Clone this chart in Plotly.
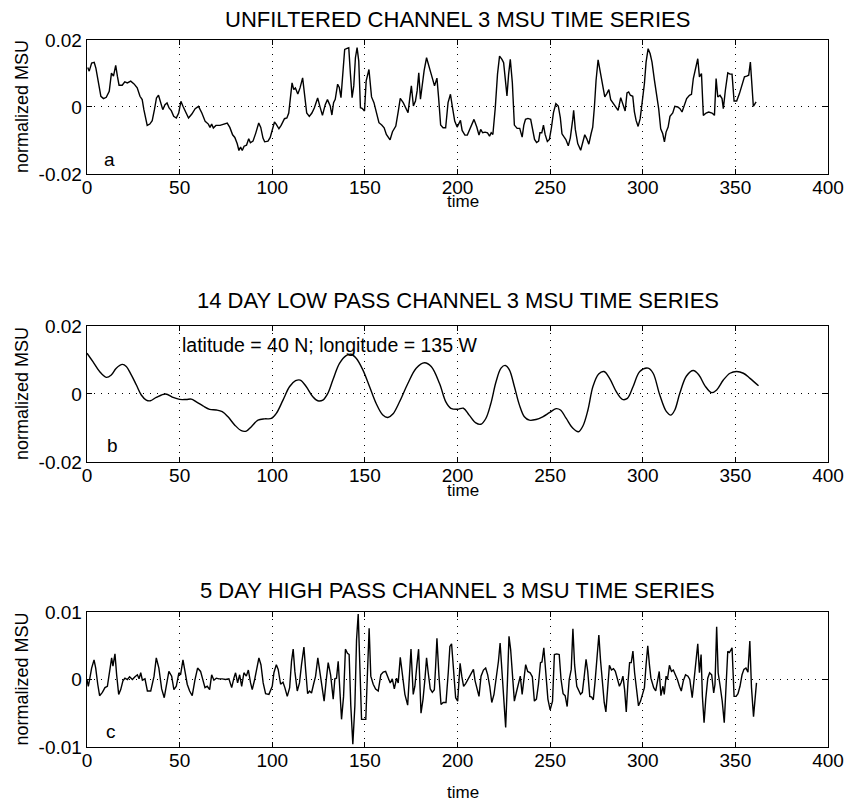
import plotly.graph_objects as go

# ---------------- data ----------------
time_a = [0.4, 1.2, 2.5, 3.9, 4.8, 6, 7.5, 8.9, 10.4, 12, 13.2, 14.3, 15.5, 16.4, 17.3, 19, 20.4, 21.8,
          23.6, 25.4, 27.1, 28.6, 29.8, 30.7, 31.6, 32.5, 33.9, 35.2, 36.4, 37.5, 38.6, 39.6, 40.9, 42.1,
          43.2, 44.3, 45.5, 46.8, 48.2, 49.5, 50.7, 51.8, 53, 54.8, 56.6, 58.4, 60.2, 62, 63.8, 65.5,
          66.4, 67.3, 68.2, 69.6, 71.8, 73.6, 75.7, 77.1, 78.6, 79.8, 81.1, 82, 82.9, 83.8, 84.8, 86.1,
          87.3, 88.2, 89.6, 91.1, 92.7, 93.8, 95, 95.9, 97.7, 98.9, 100, 101.2, 102.1, 103.6, 104.8,
          106.6, 107.9, 108.9, 109.8, 110.7, 111.6, 112.5, 113.8, 115, 116.4, 117.5, 118.6, 120, 121.4,
          122.7, 124.5, 125.7, 127.1, 128.6, 129.8,
          131.3, 132.2, 133.1, 134, 135.3, 136.2, 137.1, 138, 139.1, 140.4, 141.3, 142.2, 143.1, 144,
          144.9, 145.8, 146.7, 147.6, 148.5, 149.8, 150.7, 152.2, 153.1, 153.6, 154.9, 156.2, 157.6,
          159.1, 160.4, 161.6, 162.7, 163.6, 164.9, 166.7, 168, 169.1, 170.7, 172.2, 173.3, 174.4,
          175.1, 176.2, 177.3, 178.2, 179.1, 180, 180.9, 182, 183.3, 184.4, 185.8, 187.6, 188.9, 189.8,
          190.9, 192.2, 193.6, 194.9, 196.2, 197.3, 198.5, 199.8, 200.9, 201.6, 202.5, 204, 205.3,
          206.7, 208.9, 210.4, 211.6, 212.5, 213.6, 214.9, 216.2, 217.3, 218.2, 219.1, 220.4, 221.6,
          222.7, 224, 224.9, 225.8, 226.7, 227.6, 228.5, 229.6, 230.7, 232.2, 233.6, 234.9, 235.8,
          236.7, 238, 239.5, 240.4, 241.6, 242.7, 243.8, 244.5, 245.5, 246.4, 247.3, 248.5, 249.6,
          250.7, 251.8, 253.1, 254.4, 255.5, 256.4, 257.6, 258.5, 259.8, 260.9, 262.2, 262.7, 263.6,
          264.9,
          266.5, 267.6, 268.7, 269.8, 270.9, 272.1, 273, 273.9, 274.8, 275.9, 277, 278.1, 279.5,
          280.6, 281.7, 282.7, 284.2, 285.6, 286.7, 288.1, 289.2, 290.5, 291.5, 292.4, 293.3, 294.6,
          295.5, 296.4, 297.5, 298.6, 299.6, 300.9, 301.8, 302.9, 304, 305, 306.3, 307.2, 308.6,
          309.7, 310.8, 311.7, 312.6, 313.7, 314.7, 316.2, 317.3, 318.9, 320.1, 321.2, 322.5, 323.7,
          325.2, 326.3, 327.3, 328.8, 329.7, 330.6, 331.7, 332.7, 334.2, 335.6, 337.4, 338.7, 339.6,
          340.5, 341.7, 342.8, 343.5, 344.6, 345.9, 347.1, 348.2, 349.3, 350.7, 352.2, 353.6, 354.9,
          356.1, 357.2, 358.1, 359, 359.7, 361.2]
msu_a = [0.0118, 0.0107, 0.0131, 0.0133, 0.0116, 0.0077, 0.0032, 0.0025, 0.0029, 0.0047, 0.0101, 0.0092,
         0.0124, 0.0092, 0.0065, 0.0065, 0.0075, 0.0072, 0.0077, 0.0069, 0.0057, 0.0032, 0.0022,
         -0.0008, -0.0033, -0.0055, -0.0051, -0.0041, -0.0008, 0.0027, 0.0035, 0.0017, -0.0008,
         0.0007, 0.0012, -0.0003, -0.0011, -0.0028, -0.0033, -0.0018, 0.0017, 0.0002, -0.0013,
         -0.0033, -0.0021, -0.0005, 0.0002, -0.0018, -0.0043, -0.0051, -0.0061, -0.0051, -0.0063,
         -0.0055, -0.0055, -0.0051, -0.0048, -0.0061, -0.0083, -0.0091, -0.0110, -0.0130, -0.0120,
         -0.0130, -0.0117, -0.0114, -0.0095, -0.0107, -0.0102, -0.0078, -0.0048, -0.0061, -0.0093,
         -0.0104, -0.0102, -0.0091, -0.0065, -0.0045, -0.0051, -0.0065, -0.0055, -0.0035, -0.0033,
         -0.0018, 0.0027, 0.0072, 0.0052, 0.0057, 0.0039, 0.0057, 0.0087, 0.0037, -0.0018, -0.0028,
         -0.0018, -0.0003, 0.0027, 0.0002, -0.0025, 0.0007, 0.0022,
         0.0003, -0.0024, 0.0013, 0.0023, 0.0068, 0.0058, 0.0028, 0.0088, 0.0172, 0.0175, 0.0177,
         0.0098, 0.0028, 0.0063, 0.0147, 0.0177, 0.0137, -0.0002, -0.0004, -0.0012, 0.0078, 0.0112,
         0.0068, 0.0030, 0.0013, -0.0017, -0.0047, -0.0054, -0.0062, -0.0082, -0.0092, -0.0098,
         -0.0074, -0.0057, -0.0014, 0.0026, 0.0013, -0.0004, -0.0017, 0.0033, 0.0063, 0.0003, 0.0018,
         0.0048, 0.0102, 0.0023, 0.0063, 0.0109, 0.0147, 0.0122, 0.0098, 0.0063, 0.0086, 0.0028,
         -0.0054, -0.0062, -0.0062, 0.0013, 0.0038, -0.0002, -0.0042, -0.0060, -0.0050, -0.0040,
         -0.0070, -0.0084, -0.0084, -0.0064, -0.0037, -0.0060, -0.0084, -0.0067, -0.0077, -0.0075,
         -0.0077, -0.0087, -0.0077, -0.0082, -0.0002, 0.0098, 0.0152, 0.0142, 0.0132, 0.0083, 0.0033,
         0.0098, 0.0142, 0.0073, -0.0054, -0.0064, -0.0064, -0.0090, -0.0054, -0.0037, -0.0034,
         -0.0037, -0.0060, -0.0097, -0.0106, -0.0102, -0.0077, -0.0077, -0.0054, -0.0082, -0.0103,
         -0.0097, -0.0062, -0.0017, 0.0010, 0.0003, -0.0032, -0.0080, -0.0090, -0.0097, -0.0116,
         -0.0092, -0.0037, -0.0010, -0.0067, -0.0109,
         -0.0129, -0.0104, -0.0083, -0.0095, -0.0111, -0.0080, -0.0060, 0.0000, 0.0080, 0.0141,
         0.0109, 0.0070, 0.0030, 0.0040, 0.0052, 0.0022, 0.0010, 0.0000, -0.0010, 0.0028, 0.0010,
         -0.0012, 0.0042, 0.0045, 0.0035, 0.0032, -0.0015, -0.0040, -0.0058, -0.0035, 0.0010, 0.0070,
         0.0134, 0.0174, 0.0159, 0.0134, 0.0080, 0.0045, -0.0005, -0.0065, -0.0080, -0.0104, -0.0075,
         -0.0060, -0.0028, -0.0018, 0.0002, 0.0000, -0.0005, -0.0015, 0.0010, 0.0025, 0.0035, 0.0038,
         0.0085, 0.0124, 0.0144, 0.0090, 0.0100, -0.0025, -0.0018, -0.0015, -0.0018, -0.0025, 0.0085,
         0.0030, 0.0035, 0.0025, -0.0005, 0.0050, 0.0102, 0.0098, 0.0098, 0.0018, 0.0018, 0.0040,
         0.0070, 0.0090, 0.0092, 0.0095, 0.0134, 0.0070, 0.0002, 0.0015]

time_b = [0, 3.2, 6.8, 10.4, 13.1, 15.8, 19.1, 21.2, 23.9, 26.6, 29.3, 32, 34.2, 37.4, 42.4, 46.4, 50,
          53.6, 56.3, 59, 62.6, 66.2, 69.8, 73, 76.1, 79.7, 83.3, 86, 88.7, 92.3, 95.9, 99.5, 102.2,
          105.8, 109.4, 112.6, 115.1, 118.3, 121.9, 124.6, 127.3, 130, 132.7, 136.3, 139.9, 142.6,
          145.3, 148.9, 152.5, 156.1, 159.7, 162.4, 165.1, 168.7, 173.2, 177.7, 182.2, 185.8, 190.3,
          193.7, 196.4, 200, 203.2, 206.3, 209.9, 212.6, 215.3, 218, 220.8, 223.5, 225.8, 228, 230.7,
          233.4, 236.1, 238.8, 242.4, 246, 249.6, 253.2, 255.6, 258.7, 262.3, 265.3, 267.7, 270.4,
          273.1, 276.2, 279.1, 282.1, 285.7, 289, 291.7, 294.8, 298.4, 302.9, 305.6, 309.2, 312.8,
          315.2, 317.3, 320, 323.6, 327.3, 330.3, 333.6, 337.2, 339.9, 343.5, 347.1, 350.7, 354.3,
          357.9, 362.5]
msu_b = [0.0120, 0.0095, 0.0066, 0.0049, 0.0056, 0.0076, 0.0087, 0.0081, 0.0056, 0.0027, -0.0003,
         -0.0018, -0.0020, -0.0010, 0.0000, -0.0010, -0.0016, -0.0016, -0.0015, -0.0023, -0.0035,
         -0.0045, -0.0047, -0.0052, -0.0067, -0.0091, -0.0108, -0.0109, -0.0096, -0.0077, -0.0073,
         -0.0072, -0.0057, -0.0018, 0.0022, 0.0039, 0.0041, 0.0022, -0.0008, -0.0020, -0.0018, 0.0002,
         0.0041, 0.0090, 0.0113, 0.0117, 0.0105, 0.0071, 0.0022, -0.0028, -0.0062, -0.0069, -0.0059,
         -0.0023, 0.0031, 0.0076, 0.0092, 0.0081, 0.0031,
         -0.0023, -0.0042, -0.0045, -0.0042, -0.0062, -0.0085, -0.0089, -0.0072, -0.0028, 0.0036,
         0.0076, 0.0084, 0.0071, 0.0022, -0.0032, -0.0067, -0.0077, -0.0075, -0.0067, -0.0055,
         -0.0043, -0.0047, -0.0072, -0.0101, -0.0111, -0.0094, -0.0047, 0.0022, 0.0059, 0.0066,
         0.0046, 0.0007, -0.0016, -0.0013, 0.0022, 0.0066, 0.0076, 0.0061, -0.0003, -0.0052, -0.0062,
         -0.0047, 0.0002, 0.0053, 0.0069, 0.0056, 0.0024, 0.0004, 0.0012, 0.0041, 0.0061, 0.0066,
         0.0061, 0.0046, 0.0024]

time_c = [0, 0.7, 1.4, 2.5, 3.8, 4.7, 5.8, 6.8, 8.3, 9.7, 11, 12.2, 13.3, 14, 15.1, 16, 17.1, 18.2, 19.4,
          20.5, 21.8, 23, 24.5, 25.9, 27.2, 28.1, 29, 29.9, 31.3, 32.6, 34.4, 36.2, 37.4, 38.8, 40.3,
          41.7, 43, 44.2, 45.7, 46.9, 48.2, 49.6, 50.5, 51.8, 52.9, 54.1, 55.4, 56.8, 58.3, 59.7,
          61.3, 62.6, 63.7, 64.9, 66.2, 67.3, 68.5, 69.8, 71.2, 73, 74.8, 76.6, 78.1, 79.3, 80.2,
          81.3, 82.4, 83.5, 84.7, 86, 87.1, 88.3, 89.2, 90.5, 91.7, 92.8, 93.9, 95.1, 96.4, 98.2, 100,
          100.9, 102.2, 103.2, 104.5, 105.8, 106.8, 108.1, 109.4, 110.4, 111.3, 112.2, 113.5, 114.7,
          115.8, 117.1, 118, 119.1, 120.1, 121.2, 122.3, 123.4, 124.6, 125.7, 126.9, 128, 129.1,
          130.2, 131.5,
          132.9, 133.8, 134.7, 135.6, 136.5, 137.4, 138.5, 139.5, 140.6, 141.5, 142.4, 143.5, 144.6,
          145.5, 146.4, 147.3, 148.2, 149.5, 150.5, 151.4, 152.3, 153.2, 154.5, 155.8, 157.2, 158.6,
          159.9, 161.2, 162.6, 163.7, 164.8, 165.9, 167.1, 168, 169.1, 170.2, 171.6, 173.1, 174,
          174.9, 176.1, 177, 178.1, 179, 180.3, 181.4, 182.4, 183.3, 184.2, 185.3, 186.4, 187.5,
          188.2, 188.9, 190, 191.1, 192.3, 193.8, 195, 195.9, 196.8, 197.9, 199, 200.1, 201.4, 202.3,
          203.3, 204.4, 205.9, 207.3, 208.6, 209.5, 210.5, 211.6, 212.7, 214, 215.2, 216.3, 217.4,
          218.5, 219.7, 220.8, 222.1, 223, 223.9, 225, 226, 226.9, 227.8, 228.7, 229.6, 230.7, 231.7,
          232.8, 233.9, 234.9, 235.8, 236.8, 237.9, 239.2, 240.4, 241.5, 242.6, 243.7, 244.8, 245.6,
          246.6, 247.7, 248.8, 250, 251.3, 252.3, 253.6, 254.9, 255.9, 257, 258.1, 259.2, 260.3,
          261.4, 262.3, 263.2, 264.4,
          266.4, 267.4, 268.5, 269.4, 270.3, 271.4, 272.4, 273.3, 274.2, 275.3, 276.3, 277.2, 278.3,
          279.2, 280.1, 281, 282, 283.1, 284.2, 285.2, 286.3, 287.4, 288.4, 289.3, 290.2, 291.1, 292,
          292.9, 293.8, 294.7, 295.6, 296.6, 297.7, 298.8, 300, 300.9, 301.8, 302.7, 303.6, 304.4,
          305.9, 307, 308, 308.9, 309.8, 310.9, 311.6, 312.6, 313.3, 314.4, 315.5, 316.5, 317.6,
          318.7, 319.8, 320.8, 321.9, 323.1, 324.4, 325.4, 326.7, 327.6, 328.6, 329.7, 330.6, 331.5,
          332.2, 333.1, 334, 335.1, 336.1, 337.2, 338.3, 339, 339.9, 340.7, 341.8, 342.9, 344, 345,
          345.9, 346.8, 347.5, 348.2, 349.3, 350.4, 351.4, 352.5, 353.6, 354.6, 355.7, 356.8, 357.8,
          358.7, 359.8, 361.4]
msu_c = [0.0, -0.0010, 0.0, 0.0017, 0.0029, 0.0017, -0.0007, -0.0024, -0.0019, -0.0012, -0.0010, 0.0012,
         0.0032, 0.0020, 0.0038, 0.0007, -0.0022, -0.0015, -0.0002, 0.0002, 0.0, 0.0004, 0.0, 0.0004,
         0.0007, 0.0001, 0.0010, -0.0001, 0.0001, -0.0017, -0.0017, 0.0005, 0.0032, 0.0017, -0.0014,
         -0.0027, -0.0004, 0.0012, 0.0005, -0.0015, -0.0010, 0.0010, 0.0007, 0.0029, 0.0012, -0.0007,
         -0.0017, -0.0024, 0.0, 0.0017, 0.0012, -0.0002, -0.0012, -0.0010, -0.0015, 0.0007, -0.0001,
         0.0002, 0.0001, 0.0001, 0.0, 0.0001, -0.0012, 0.0002, 0.0010, -0.0005, 0.0007, -0.0010,
         0.0010, 0.0005, 0.0014, -0.0005, -0.0015, 0.0, 0.0020, 0.0032, 0.0022, -0.0005, -0.0021,
         -0.0022, -0.0010, 0.0010, 0.0022, 0.0015, -0.0007, -0.0004, -0.0012, -0.0025, -0.0012, 0.0027,
         0.0045, 0.0012, -0.0017, -0.0005, 0.0022, 0.0048, 0.0015, -0.0021, -0.0017, -0.0020, -0.0007,
         0.0005, 0.0032, 0.0010, -0.0015, -0.0032, -0.0002, 0.0025, 0.0007,
         -0.0029, 0.0001, 0.0002, 0.0027, -0.0010, -0.0059, -0.0025, 0.0045, 0.0039, 0.0037, -0.0039,
         -0.0096, -0.0039, 0.0059, 0.0097, 0.0029, -0.0059, -0.0059, -0.0059, 0.0010, 0.0076, 0.0005,
         -0.0007, -0.0014, -0.0017, 0.0007, 0.0011, 0.0012, 0.0001, -0.0005, 0.0001, -0.0014, 0.0002,
         -0.0005, 0.0033, 0.0010, -0.0022, -0.0038, -0.0002, 0.0045, -0.0022, -0.0010, 0.0022, 0.0045,
         -0.0050, -0.0029, 0.0, 0.0032, 0.0010, -0.0014, -0.0019, -0.0015, 0.0020, 0.0061, 0.0005,
         -0.0037, -0.0034, -0.0034, 0.0010, 0.0049, 0.0053, 0.0010, -0.0027, -0.0032, 0.0024, 0.0005,
         -0.0010, -0.0006, 0.0002, 0.0010, 0.0015, -0.0002, -0.0014, -0.0025, 0.0005, 0.0014, 0.0017,
         0.0007, -0.0010, -0.0034, -0.0022, -0.0001, 0.0027, 0.0054, 0.0015, -0.0039, -0.0071,
         -0.0007, 0.0064, 0.0044, 0.0010, -0.0032, -0.0020, -0.0007, 0.0005, -0.0022, 0.0, 0.0022,
         0.0012, 0.0010, 0.0004, -0.0032, -0.0029, -0.0007, 0.0025, 0.0026, 0.0047, 0.0005, -0.0029,
         -0.0045, -0.0032, 0.0037, 0.0038, 0.0037, 0.0, -0.0021, -0.0024, -0.0040, 0.0, 0.0015, 0.0075,
         0.0022, -0.0010,
         -0.0022, -0.0019, 0.0007, 0.0030, 0.0012, -0.0025, -0.0026, -0.0030, -0.0005, 0.0034, 0.0066,
         0.0029, -0.0012, -0.0034, -0.0048, -0.0012, 0.0021, 0.0014, 0.0016, 0.0012, 0.0002, -0.0010,
         -0.0004, 0.0005, -0.0015, -0.0048, -0.0005, 0.0025, 0.0025, 0.0042, 0.0010, -0.0017, -0.0039,
         -0.0032, -0.0022, -0.0012, 0.0022, 0.0050, 0.0022, 0.0002, -0.0012, -0.0017, -0.0002, 0.0012,
         -0.0024, -0.0010, -0.0022, 0.0005, 0.0, 0.0021, 0.0012, 0.0014, 0.0007, 0.0, -0.0010, -0.0017,
         -0.0002, 0.0007, 0.0005, 0.0, -0.0027, -0.0002, 0.0022, 0.0053, 0.0010, 0.0037, -0.0025,
         -0.0064, -0.0029, 0.0002, 0.0010, 0.0007, -0.0020, -0.0007, 0.0078, 0.0010, -0.0010, -0.0032,
         -0.0064, 0.0, 0.0042, 0.0040, 0.0044, 0.0047, -0.0025, -0.0025, -0.0021, -0.0010, 0.0007,
         0.0015, 0.0017, 0.0011, 0.0057, -0.0012, -0.0055, -0.0005]

x_ticks = [0, 50, 100, 150, 200, 250, 300, 350, 400]
x_ticktext = ["0", "50", "100", "150", "200", "250", "300", "350", "400"]
y_ticks_ab = [-0.02, 0, 0.02]
y_ticktext_ab = ["-0.02", "0", "0.02"]
y_ticks_c = [-0.01, 0, 0.01]
y_ticktext_c = ["-0.01", "0", "0.01"]

titles = ["UNFILTERED CHANNEL 3 MSU TIME SERIES",
          "14 DAY LOW PASS CHANNEL 3 MSU TIME SERIES",
          "5 DAY HIGH PASS CHANNEL 3 MSU TIME SERIES"]
panel_letters = ["a", "b", "c"]
location_note = "latitude = 40 N; longitude = 135 W"

# ---------------- figure ----------------
FONT = "Liberation Sans, Arial, Helvetica, sans-serif"
line_style = dict(color="black", width=1.4)

fig = go.Figure()
fig.add_trace(go.Scatter(x=time_a, y=msu_a, mode="lines", line=line_style,
                         xaxis="x", yaxis="y", hoverinfo="skip"))
fig.add_trace(go.Scatter(x=time_b, y=msu_b, mode="lines",
                         line=dict(color="black", width=1.4, shape="spline", smoothing=1.0),
                         xaxis="x2", yaxis="y2", hoverinfo="skip"))
fig.add_trace(go.Scatter(x=time_c, y=msu_c, mode="lines", line=line_style,
                         xaxis="x3", yaxis="y3", hoverinfo="skip"))

axis_common = dict(showline=True, linecolor="black", linewidth=1.3, mirror="ticks",
                   ticks="inside", ticklen=5, tickcolor="black", tickwidth=1,
                   showgrid=True, gridcolor="black", griddash="1px,6px", gridwidth=1,
                   zeroline=False, automargin=False,
                   tickfont=dict(size=19, color="black", family=FONT))

def xax(anchor):
    return dict(axis_common, range=[0, 400], tickvals=x_ticks, ticktext=x_ticktext,
                anchor=anchor, domain=[0, 1], ticklabelstandoff=-4,
                ticklabeloverflow="allow")

def yax(anchor, dom, rng, tv, tt):
    return dict(axis_common, range=rng, tickvals=tv, ticktext=tt, anchor=anchor, domain=dom)

fig.update_layout(
    width=846, height=802,
    margin=dict(l=87, r=18, t=40, b=55, autoexpand=False),
    paper_bgcolor="white", plot_bgcolor="white",
    showlegend=False,
    font=dict(family=FONT, color="black", size=17),
    xaxis=xax("y"),
    yaxis=yax("x", [0.8105, 1.0], [-0.02, 0.02], y_ticks_ab, y_ticktext_ab),
    xaxis2=xax("y2"),
    yaxis2=yax("x2", [0.4031, 0.5955], [-0.02, 0.02], y_ticks_ab, y_ticktext_ab),
    xaxis3=xax("y3"),
    yaxis3=yax("x3", [0.0, 0.1909], [-0.01, 0.01], y_ticks_c, y_ticktext_c),
)

ydoms = ["y domain", "y2 domain", "y3 domain"]
title_shift = [21, 25, 22]
time_shift = [-28, -28, -45]
letter_pos = [("x", "y", 12, -0.0157), ("x2", "y2", 14, -0.0150), ("x3", "y3", 13, -0.0077)]

ann = []
for i in range(3):
    ann.append(dict(text=titles[i], xref="paper", x=0.5, yref=ydoms[i], y=1,
                    yanchor="middle", yshift=title_shift[i], showarrow=False,
                    font=dict(size=22, family=FONT, color="black")))
    ann.append(dict(text="time", xref="paper", x=0.5, xshift=5, yref=ydoms[i], y=0,
                    yanchor="middle", yshift=time_shift[i], showarrow=False,
                    font=dict(size=17, family=FONT, color="black")))
    ann.append(dict(text="normalized MSU", xref="paper", x=0, xshift=-65, yref=ydoms[i],
                    y=0.5, textangle=-90, showarrow=False, xanchor="center", yanchor="middle",
                    font=dict(size=18, family=FONT, color="black")))
    xr, yr, lx, ly = letter_pos[i]
    ann.append(dict(text=panel_letters[i], xref=xr, yref=yr, x=lx, y=ly, showarrow=False,
                    font=dict(size=19, family=FONT, color="black")))

ann.append(dict(text=location_note, xref="x2", yref="y2", x=50.2, y=0.0144, xanchor="left",
                yanchor="middle", showarrow=False, font=dict(size=19.5, family=FONT, color="black")))

fig.update_layout(annotations=ann)
# remove the browser's default 8px page margin so the 846x802 figure fills the window exactly
fig.write_html("out.html",
               config={"displayModeBar": False, "staticPlot": True},
               post_script="document.body.style.margin='0px';document.body.style.overflow='hidden';")
